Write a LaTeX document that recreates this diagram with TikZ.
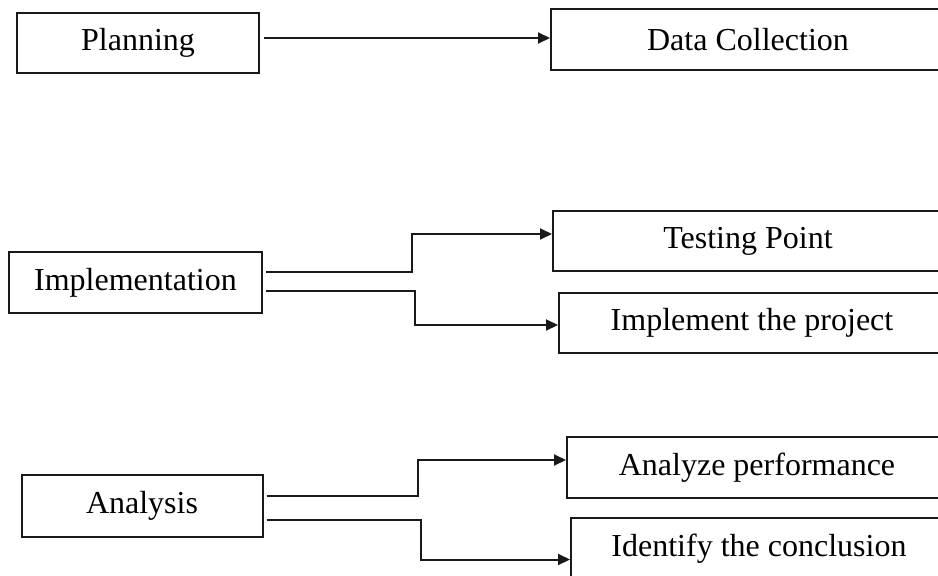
\documentclass[tikz,border=0pt]{standalone}
\usepackage{fontspec}
\setmainfont{Liberation Serif}
\usetikzlibrary{arrows.meta}
\begin{document}
\begin{tikzpicture}[x=1pt,y=-1pt,
  box/.style={draw=black!90, line width=2pt, inner sep=0pt, align=center,
    font=\fontsize{32}{38}\selectfont},
  arr/.style={draw=black!90, line width=2pt, -{Triangle[length=12pt,width=11pt]}}]
\useasboundingbox (0,0) rectangle (938,576);
\clip (0,0) rectangle (938,576);
\node[box, minimum width=242, minimum height=60] (plan) at (138,43) {Planning};
\node[box, minimum width=394, minimum height=61] (data) at (748,39.5) {Data Collection};
\node[box, minimum width=253, minimum height=61] (impl) at (135.5,282.5) {Implementation};
\node[box, minimum width=390, minimum height=60] (test) at (748,241) {Testing Point};
\node[box, minimum width=386, minimum height=60] (proj) at (752,323) {Implement the project};
\node[box, minimum width=241, minimum height=62] (anal) at (142,506) {Analysis};
\node[box, minimum width=380, minimum height=61] (perf) at (757,467.5) {Analyze performance};
\node[box, minimum width=376, minimum height=61] (concl) at (759,548.5) {Identify the conclusion};
\draw[arr] ([xshift=4pt,yshift=1.5pt]plan.east |- data.west) -- ([yshift=1.5pt]data.west);
\draw[arr] ([xshift=3pt,yshift=11pt]impl.east) -- ++(146,0) |- ([yshift=7pt]test.west);
\draw[arr] ([xshift=3pt,yshift=-8.5pt]impl.east) -- ++(149,0) |- ([yshift=-2pt]proj.west);
\draw[arr] ([xshift=3pt,yshift=10pt]anal.east) -- ++(151,0) |- ([yshift=7.5pt]perf.west);
\draw[arr] ([xshift=3pt,yshift=-14pt]anal.east) -- ++(154,0) |- ([yshift=-11pt]concl.west);
\end{tikzpicture}
\end{document}
